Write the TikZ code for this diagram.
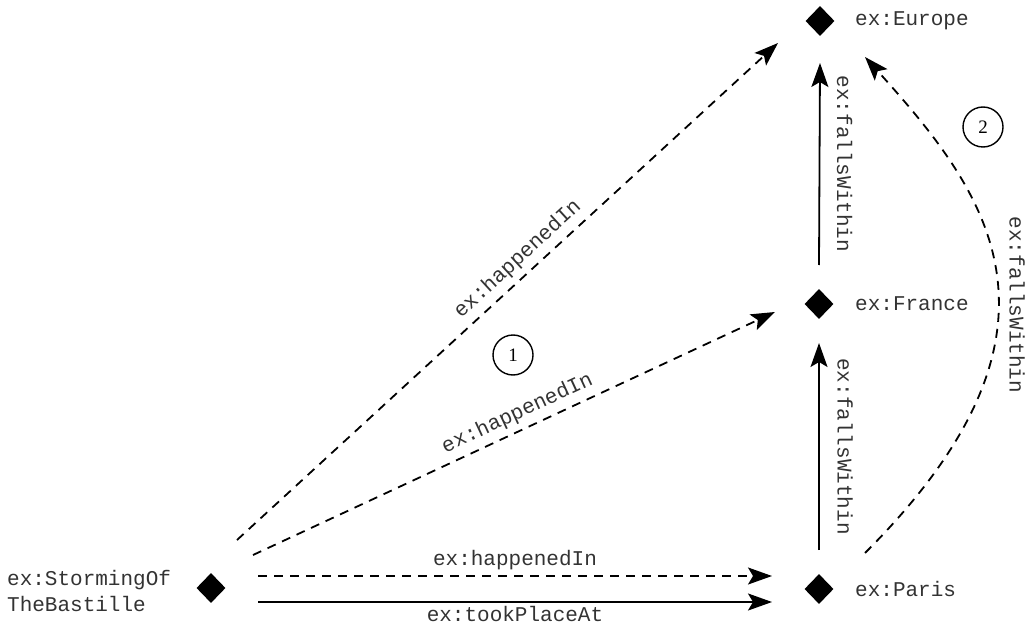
\documentclass[tikz,border=0pt]{standalone}
\usepackage{fontspec}
\setmainfont{Liberation Serif}
\setmonofont{Liberation Mono}
\usetikzlibrary{arrows.meta,shapes.geometric}
\begin{document}
\begin{tikzpicture}[x=1pt,y=1pt,
  res/.style={diamond, fill=black, inner sep=0pt, minimum width=29pt, minimum height=30pt},
  lbl/.style={font=\ttfamily\fontsize{21}{26}\selectfont, text=black!80, inner sep=2pt},
  arr/.style={line width=1.8pt, -{Stealth[length=24pt,width=17pt,inset=5pt]}},
  darr/.style={arr, dash pattern=on 9pt off 7pt},
  num/.style={circle, draw, line width=1.4pt, minimum size=40pt, inner sep=0pt, font=\fontsize{19}{19}\selectfont}
]
\useasboundingbox (0,0) rectangle (1030,633);

% resources
\node[res] (europe) at (820,612) {};
\node[res] (france) at (819,329) {};
\node[res] (paris)  at (819,44) {};
\node[res] (storm)  at (211,45) {};

\node[lbl, anchor=west] (europeL) at (853,612) {ex:Europe};
\node[lbl, anchor=west] (franceL) at (853,329) {ex:France};
\node[lbl, anchor=west] (parisL)  at (853,44) {ex:Paris};
\node[lbl, anchor=west, align=left] (stormL) at (5,42) {ex:StormingOf\\TheBastille};

% horizontal edges
\draw[darr] ([shift={(47,12)}]storm.center) -- node[lbl, midway, above=3pt] (lh) {ex:happenedIn} ([shift={(-47,13)}]paris.center);
\draw[arr] ([shift={(47,-14)}]storm.center) -- node[lbl, midway, below=1pt] (lt) {ex:tookPlaceAt} ([shift={(-47,-13)}]paris.center);

% vertical edges
\draw[arr] ([yshift=39]france.center) -- node[lbl, midway, xshift=25pt, rotate=-90] (lf1) {ex:fallsWithin} ([yshift=-42]europe.center);
\draw[arr] ([yshift=39]paris.center) -- node[lbl, midway, xshift=26pt, rotate=-90] (lf2) {ex:fallsWithin} ([yshift=-39]france.center);

% diagonal edges
\draw[darr] ([shift={(42,33)}]storm.center) -- node[lbl, pos=0.52, above=4pt, sloped] (ld1) {ex:happenedIn} ([shift={(-44,-8)}]france.center);
\draw[darr] ([shift={(26,48)}]storm.center) -- node[lbl, pos=0.54, above=4pt, sloped] (ld2) {ex:happenedIn} ([shift={(-42,-22)}]europe.center);

% curved inferred edge
\draw[darr] ([shift={(46,36)}]paris.center) .. controls +(45:320) and +(-48:180) .. ([shift={(45,-36)}]europe.center);
\node[lbl, rotate=-90] (lf3) at (1017,328) {ex:fallsWithin};

% numbered markers
\node[num] (n1) at (513,278) {1};
\node[num] (n2) at (983,506) {2};
\end{tikzpicture}
\end{document}
